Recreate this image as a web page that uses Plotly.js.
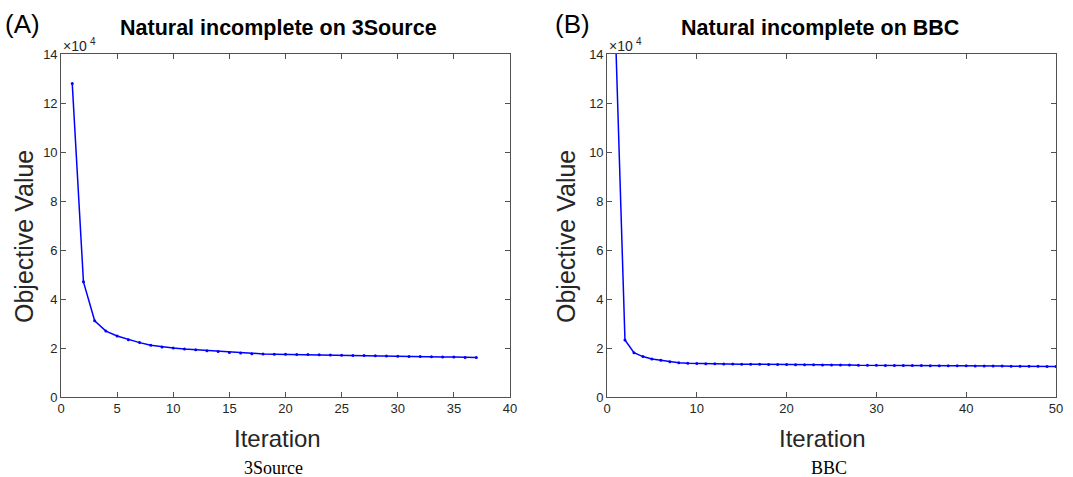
<!DOCTYPE html>
<html>
<head>
<meta charset="utf-8">
<script src="https://cdn.plot.ly/plotly-3.0.1.min.js"></script>
<style>html,body{margin:0;padding:0;background:#fff;}#chart{width:1073px;height:477px;}</style>
</head>
<body>
<div id="chart"></div>
<script>
// Objective values in units of 10^4
const iterA = Array.from({length: 37}, (_, i) => i + 1);
const objA = [12.8, 4.70, 3.11, 2.69, 2.49, 2.34, 2.22, 2.11, 2.04, 2.00,
  1.96, 1.93, 1.89, 1.86, 1.82, 1.80, 1.77, 1.76, 1.75, 1.74,
  1.73, 1.73, 1.72, 1.71, 1.70, 1.69, 1.69, 1.68, 1.67, 1.66,
  1.65, 1.65, 1.64, 1.63, 1.63, 1.61, 1.61];
const iterB = Array.from({length: 50}, (_, i) => i + 1);
const objB = [14.2, 2.33, 1.81, 1.65, 1.55, 1.50, 1.44, 1.40, 1.38, 1.37,
  1.36, 1.36, 1.35, 1.35, 1.34, 1.34, 1.34, 1.33, 1.33, 1.33,
  1.32, 1.32, 1.32, 1.31, 1.31, 1.31, 1.31, 1.30, 1.30, 1.30,
  1.29, 1.29, 1.29, 1.29, 1.29, 1.28, 1.28, 1.28, 1.28, 1.28,
  1.27, 1.27, 1.27, 1.27, 1.26, 1.26, 1.26, 1.26, 1.25, 1.25];
const panelLetters = ["(A)", "(B)"];
const titles = ["Natural incomplete on 3Source", "Natural incomplete on BBC"];
const captions = ["3Source", "BBC"];
const xLabel = "Iteration";
const yLabel = "Objective Value";
const xTicksA = [0, 5, 10, 15, 20, 25, 30, 35, 40];
const xTicksB = [0, 10, 20, 30, 40, 50];
const yTicks = [0, 2, 4, 6, 8, 10, 12, 14];

const W = 1073, H = 477;
const px = v => v / W, py = v => 1 - v / H;
const axCol = '#262626';
const tickFont = {family: 'Liberation Sans, Arial, sans-serif', size: 13, color: axCol};

function xa(dom, range, ticks) {
  return {domain: dom, range: range, tickvals: ticks, ticks: 'inside', ticklen: 5,
    tickcolor: axCol, tickwidth: 0.8, showline: true, linecolor: axCol, linewidth: 0.8,
    mirror: 'ticks', showgrid: false, zeroline: false, tickfont: tickFont, fixedrange: true};
}
function ya(dom, anchor) {
  return {domain: dom, range: [0, 14], tickvals: yTicks, ticks: 'inside', ticklen: 5,
    tickcolor: axCol, tickwidth: 0.8, showline: true, linecolor: axCol, linewidth: 0.8,
    mirror: 'ticks', showgrid: false, zeroline: false, tickfont: tickFont, anchor: anchor, fixedrange: true};
}
const yDom = [(H - 397) / H, (H - 54) / H];
const lineStyle = {color: '#0000ff', width: 1.5};
const mk = {color: '#0000ff', size: 3};

const data = [
  {x: iterA, y: objA, xaxis: 'x', yaxis: 'y', mode: 'lines+markers', line: lineStyle, marker: mk, cliponaxis: true},
  {x: iterB, y: objB, xaxis: 'x2', yaxis: 'y2', mode: 'lines+markers', line: lineStyle, marker: mk, cliponaxis: true}
];

const ann = [];
const sansL = 'Liberation Sans, Arial, sans-serif';
const titleCenters = [278, 820];
const xlabCenters = [277, 822];
const lefts = [61, 607];
[0, 1].forEach(i => {
  ann.push({text: panelLetters[i], x: px(i === 0 ? 3 : 553), y: py(24), xref: 'paper', yref: 'paper',
    xanchor: 'left', yanchor: 'middle', showarrow: false, font: {family: sansL, size: 26, color: '#000'}});
  ann.push({text: '<b>' + titles[i] + '</b>', x: px(titleCenters[i]), y: py(28), xref: 'paper', yref: 'paper',
    xanchor: 'center', yanchor: 'middle', showarrow: false, font: {family: sansL, size: 21.5, color: '#000'}});
  ann.push({text: '×10', x: px(lefts[i]), y: py(46), xref: 'paper', yref: 'paper',
    xanchor: 'left', yanchor: 'middle', showarrow: false, font: {family: sansL, size: 14, color: axCol}});
  ann.push({text: '4', x: px(lefts[i] + 27), y: py(41), xref: 'paper', yref: 'paper',
    xanchor: 'left', yanchor: 'middle', showarrow: false, font: {family: sansL, size: 10, color: axCol}});
  ann.push({text: xLabel, x: px(xlabCenters[i]), y: py(438), xref: 'paper', yref: 'paper',
    xanchor: 'center', yanchor: 'middle', showarrow: false, font: {family: sansL, size: 24, color: axCol}});
  ann.push({text: yLabel, x: px(i === 0 ? 24 : 566), y: py(237), xref: 'paper', yref: 'paper', textangle: -90,
    xanchor: 'center', yanchor: 'middle', showarrow: false, font: {family: sansL, size: 25, color: axCol}});
  ann.push({text: captions[i], x: px(i === 0 ? 273 : 829), y: py(468), xref: 'paper', yref: 'paper',
    xanchor: 'center', yanchor: 'middle', showarrow: false, font: {family: 'Liberation Serif, Times New Roman, serif', size: 18, color: '#000'}});
});

const layout = {
  width: W, height: H, margin: {l: 0, r: 0, t: 0, b: 0},
  paper_bgcolor: '#fff', plot_bgcolor: '#fff', showlegend: false,
  xaxis: Object.assign(xa([px(61), px(510)], [0, 40], xTicksA), {anchor: 'y'}),
  yaxis: ya(yDom, 'x'),
  xaxis2: Object.assign(xa([px(607), px(1056)], [0, 50], xTicksB), {anchor: 'y2'}),
  yaxis2: ya(yDom, 'x2'),
  annotations: ann
};
Plotly.newPlot('chart', data, layout, {displayModeBar: false, staticPlot: true});
</script>
</body>
</html>
